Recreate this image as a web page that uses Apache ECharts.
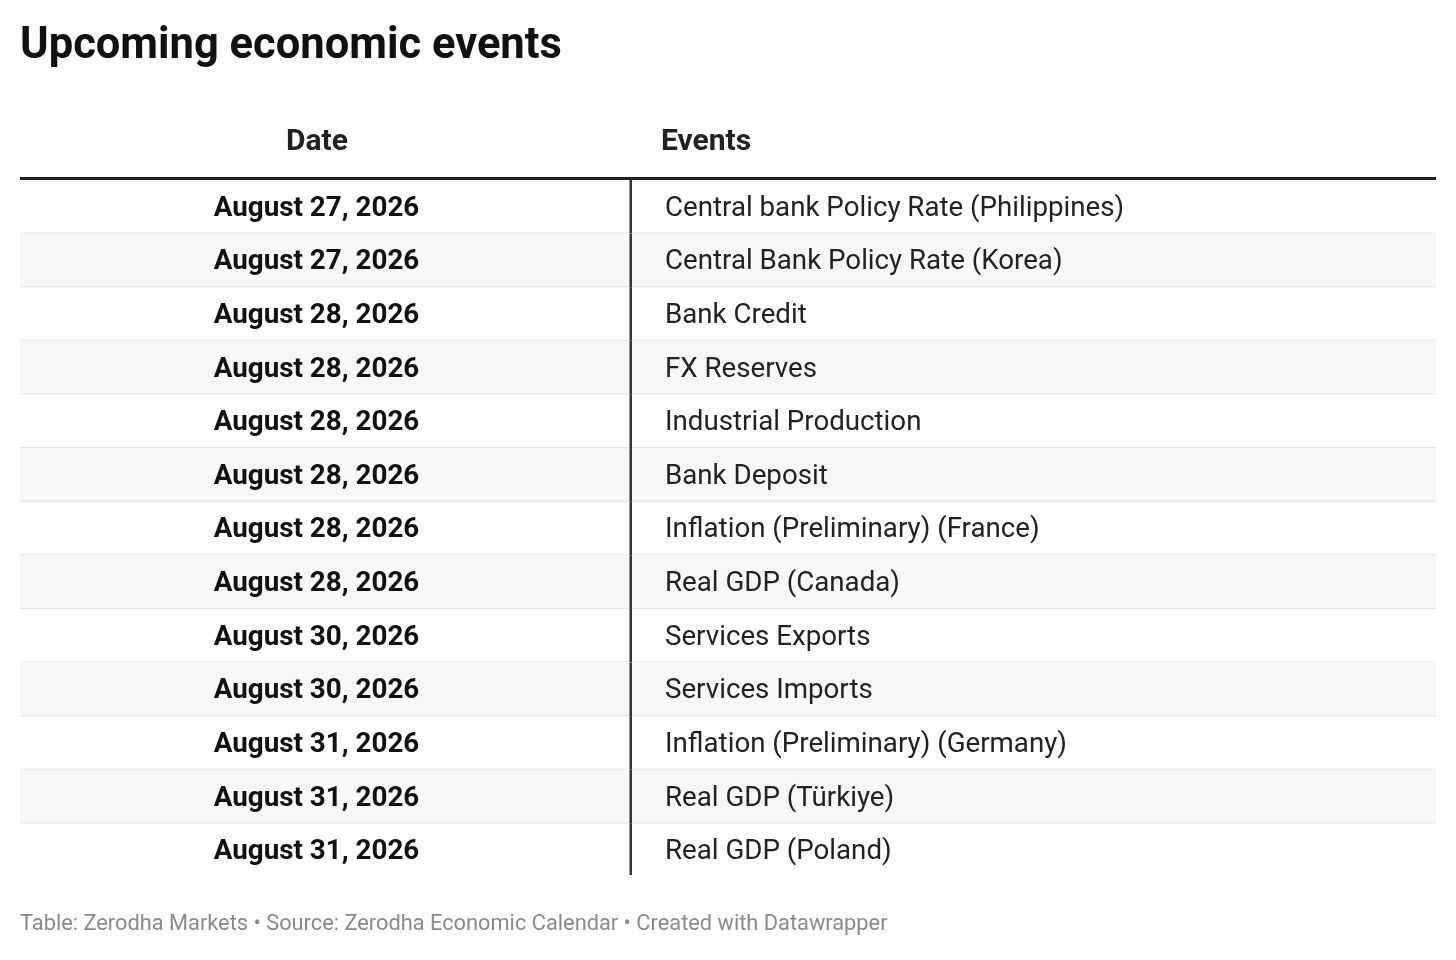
<!DOCTYPE html>
<html><head><meta charset="utf-8">
<script src="https://cdn.jsdelivr.net/npm/echarts@6/dist/echarts.min.js"></script>
<style>html,body{margin:0;padding:0;background:#fff}#c{width:1456px;height:960px}</style>
</head><body><div id="c"></div>
<script>
const dates = ["August 27, 2026","August 27, 2026","August 28, 2026","August 28, 2026","August 28, 2026","August 28, 2026","August 28, 2026","August 28, 2026","August 30, 2026","August 30, 2026","August 31, 2026","August 31, 2026","August 31, 2026"];
const events = ["Central bank Policy Rate (Philippines)","Central Bank Policy Rate (Korea)","Bank Credit","FX Reserves","Industrial Production","Bank Deposit","Inflation (Preliminary) (France)","Real GDP (Canada)","Services Exports","Services Imports","Inflation (Preliminary) (Germany)","Real GDP (Türkiye)","Real GDP (Poland)"];
const headers = ["Date","Events"];
const FONT = "Roboto, 'Noto Sans', sans-serif";
const chart = echarts.init(document.getElementById('c'));
chart.setOption({
  animation:false,
  title:{text:"Upcoming economic events",left:15,top:20,textStyle:{fontFamily:FONT,fontSize:43.5,fontWeight:'bold',color:'#111'}},
  grid:{left:20,right:20,top:180,bottom:83},
  xAxis:{type:'value',min:0,max:1,show:false},
  yAxis:{type:'category',data:dates.map((d,i)=>i),inverse:true,show:false},
  graphic:[
    {type:'text',left:286,top:127,style:{text:headers[0],font:"bold 30px "+FONT,fill:'#222'}},
    {type:'text',left:661,top:127,style:{text:headers[1],font:"bold 30px "+FONT,fill:'#222'}},
    {type:'rect',shape:{x:20,y:177,width:1416,height:3},style:{fill:'#222'}},
    {type:'text',left:20,top:914,style:{text:"Table: Zerodha Markets • Source: Zerodha Economic Calendar • Created with Datawrapper",font:"21.8px "+FONT,fill:'#8a8a8a'}}
  ],
  series:[{
    type:'custom',
    data:dates.map((d,i)=>[0,i]),
    renderItem:function(params,api){
      const i=api.value(1);
      const c=api.coord([0,i]);
      const h=api.size([0,1])[1];
      const x0=params.coordSys.x, w=params.coordSys.width;
      const top=c[1]-h/2;
      const ch=[];
      if(i%2===1) ch.push({type:'rect',shape:{x:x0,y:top,width:w,height:h},style:{fill:'#f7f7f7'}});
      if(i<dates.length-1) ch.push({type:'rect',shape:{x:x0,y:top+h-1,width:w,height:1},style:{fill:'#e3e3e3'}});
      ch.push({type:'rect',shape:{x:629.5,y:top,width:2.5,height:h-(i===dates.length-1?2:0)},style:{fill:'#333'}});
      ch.push({type:'text',x:316.5,y:c[1]+2,style:{text:dates[i],font:"bold 27.8px "+FONT,fill:'#111',align:'center',verticalAlign:'middle'}});
      ch.push({type:'text',x:665,y:c[1]+2,style:{text:events[i],font:"27.7px "+FONT,fill:'#222',align:'left',verticalAlign:'middle'}});
      return {type:'group',children:ch};
    }
  }]
});
</script></body></html>
